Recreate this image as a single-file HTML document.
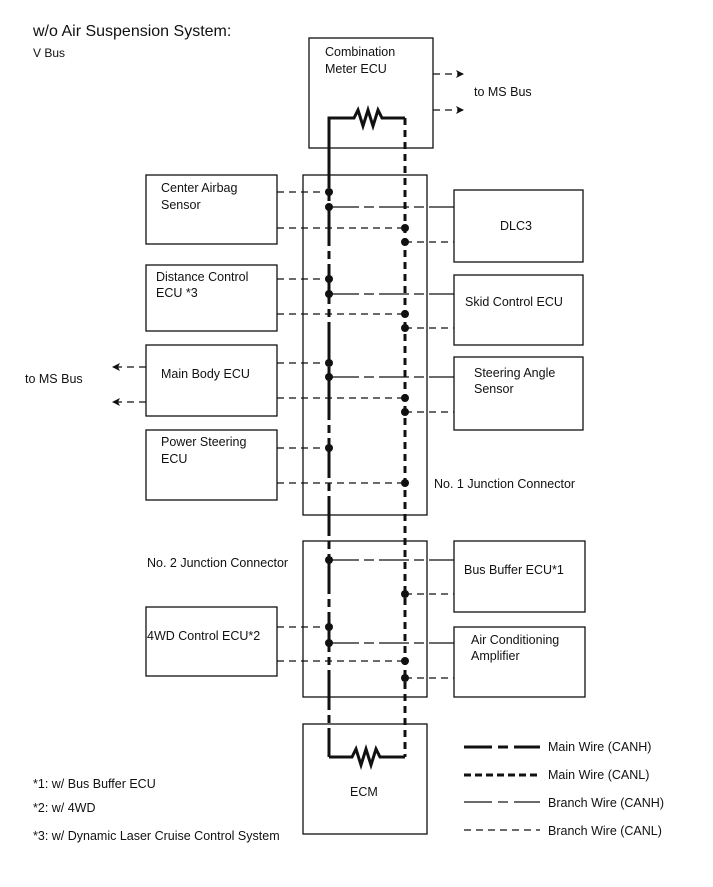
<!DOCTYPE html>
<html><head><meta charset="utf-8"><style>
body{margin:0;background:#fff}
svg text{font-family:"Liberation Sans",Arial,sans-serif;fill:#111}
</style></head><body>
<svg width="713" height="882" viewBox="0 0 713 882" xmlns="http://www.w3.org/2000/svg">
<defs>
<marker id="ah" markerWidth="8" markerHeight="8" refX="7" refY="4" orient="auto" markerUnits="userSpaceOnUse"><path d="M0,0 L8,4 L0,8 L2,4z" fill="#111"/></marker>
</defs>
<text x="33" y="36" font-size="16">w/o Air Suspension System:</text>
<text x="33" y="57" font-size="12">V Bus</text>
<g fill="none" stroke="#111" stroke-width="1.3">
<rect x="309" y="38" width="124" height="110"/>
<rect x="303" y="175" width="124" height="340"/>
<rect x="146" y="175" width="131" height="69"/>
<rect x="454" y="190" width="129" height="72"/>
<rect x="146" y="265" width="131" height="66"/>
<rect x="454" y="275" width="129" height="70"/>
<rect x="146" y="345" width="131" height="71"/>
<rect x="454" y="357" width="129" height="73"/>
<rect x="146" y="430" width="131" height="70"/>
<rect x="303" y="541" width="124" height="156"/>
<rect x="454" y="541" width="131" height="71"/>
<rect x="146" y="607" width="131" height="69"/>
<rect x="454" y="627" width="131" height="70"/>
<rect x="303" y="724" width="124" height="110"/>
</g>
<g fill="none" stroke="#111" stroke-width="3">
<path d="M329,148 V118 H354 l4,-8 l5,16 l5,-16 l5,16 l5,-16 l4,8 H405"/>
<path d="M329,757 H352 l4,-8 l5,16 l5,-16 l5,16 l5,-16 l4,8 H405"/>
<line x1="329" y1="148" x2="329" y2="757" stroke-dasharray="40 5 8 5"/>
<line x1="405" y1="118" x2="405" y2="757" stroke-dasharray="7 5"/>
</g>
<g fill="none" stroke="#111" stroke-width="1.2">
<g stroke-dasharray="7 5">
<line x1="433" y1="74" x2="463" y2="74" marker-end="url(#ah)"/>
<line x1="433" y1="110" x2="463" y2="110" marker-end="url(#ah)"/>
<line x1="146" y1="367" x2="113" y2="367" marker-end="url(#ah)"/>
<line x1="146" y1="402" x2="113" y2="402" marker-end="url(#ah)"/>
<line x1="277" y1="192" x2="329" y2="192"/>
<line x1="277" y1="228" x2="405" y2="228"/>
<line x1="405" y1="242" x2="454" y2="242"/>
<line x1="277" y1="279" x2="329" y2="279"/>
<line x1="277" y1="314" x2="405" y2="314"/>
<line x1="405" y1="328" x2="454" y2="328"/>
<line x1="277" y1="363" x2="329" y2="363"/>
<line x1="277" y1="398" x2="405" y2="398"/>
<line x1="405" y1="412" x2="454" y2="412"/>
<line x1="277" y1="448" x2="329" y2="448"/>
<line x1="277" y1="483" x2="405" y2="483"/>
<line x1="405" y1="594" x2="454" y2="594"/>
<line x1="277" y1="627" x2="329" y2="627"/>
<line x1="277" y1="661" x2="405" y2="661"/>
<line x1="405" y1="678" x2="454" y2="678"/>
<line x1="464" y1="830" x2="540" y2="830"/>
</g>
<g stroke-dasharray="30 5 10 5">
<line x1="329" y1="207" x2="454" y2="207"/>
<line x1="329" y1="294" x2="454" y2="294"/>
<line x1="329" y1="377" x2="454" y2="377"/>
<line x1="329" y1="560" x2="454" y2="560"/>
<line x1="329" y1="643" x2="454" y2="643"/>
</g>
<line x1="464" y1="802" x2="492" y2="802"/><line x1="498" y1="802" x2="508" y2="802"/><line x1="514" y1="802" x2="540" y2="802"/>
</g>
<g stroke="#111" stroke-width="3" fill="none">
<line x1="464" y1="747" x2="492" y2="747"/><line x1="498" y1="747" x2="508" y2="747"/><line x1="514" y1="747" x2="540" y2="747"/>
<line x1="464" y1="775" x2="540" y2="775" stroke-dasharray="7 4"/>
</g>
<g fill="#111">
<circle cx="329" cy="192" r="4"/><circle cx="329" cy="207" r="4"/><circle cx="405" cy="228" r="4"/><circle cx="405" cy="242" r="4"/>
<circle cx="329" cy="279" r="4"/><circle cx="329" cy="294" r="4"/><circle cx="405" cy="314" r="4"/><circle cx="405" cy="328" r="4"/>
<circle cx="329" cy="363" r="4"/><circle cx="329" cy="377" r="4"/><circle cx="405" cy="398" r="4"/><circle cx="405" cy="412" r="4"/>
<circle cx="329" cy="448" r="4"/><circle cx="405" cy="483" r="4"/>
<circle cx="329" cy="560" r="4"/><circle cx="405" cy="594" r="4"/>
<circle cx="329" cy="627" r="4"/><circle cx="329" cy="643" r="4"/><circle cx="405" cy="661" r="4"/><circle cx="405" cy="678" r="4"/>
</g>
<g font-size="12.5">
<text x="325" y="56">Combination</text><text x="325" y="73">Meter ECU</text>
<text x="474" y="96">to MS Bus</text>
<text x="161" y="192">Center Airbag</text><text x="161" y="209">Sensor</text>
<text x="500" y="230">DLC3</text>
<text x="156" y="281">Distance Control</text><text x="156" y="297">ECU *3</text>
<text x="465" y="306">Skid Control ECU</text>
<text x="25" y="383">to MS Bus</text>
<text x="161" y="378">Main Body ECU</text>
<text x="474" y="377">Steering Angle</text><text x="474" y="393">Sensor</text>
<text x="161" y="446">Power Steering</text><text x="161" y="463">ECU</text>
<text x="434" y="488">No. 1 Junction Connector</text>
<text x="147" y="567">No. 2 Junction Connector</text>
<text x="464" y="574">Bus Buffer ECU*1</text>
<text x="147" y="640">4WD Control ECU*2</text>
<text x="471" y="644">Air Conditioning</text><text x="471" y="660">Amplifier</text>
<text x="350" y="796">ECM</text>
<text x="548" y="751">Main Wire (CANH)</text>
<text x="548" y="779">Main Wire (CANL)</text>
<text x="548" y="807">Branch Wire (CANH)</text>
<text x="548" y="835">Branch Wire (CANL)</text>
<text x="33" y="788">*1: w/ Bus Buffer ECU</text>
<text x="33" y="812">*2: w/ 4WD</text>
<text x="33" y="840">*3: w/ Dynamic Laser Cruise Control System</text>
</g>
</svg>
</body></html>
